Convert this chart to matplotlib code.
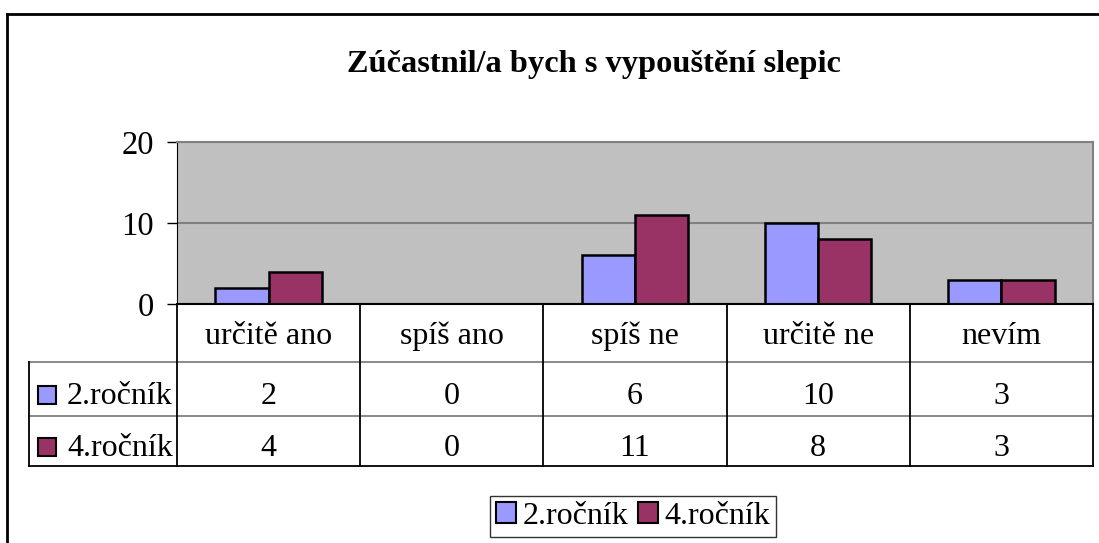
import matplotlib
matplotlib.use("Agg")
import matplotlib.pyplot as plt
from matplotlib.patches import Rectangle

# data
categories = ['určitě ano', 'spíš ano', 'spíš ne', 'určitě ne', 'nevím']
series = ['2.ročník', '4.ročník']
rocnik2 = [2, 0, 6, 10, 3]
rocnik4 = [4, 0, 11, 8, 3]
colors = ['#9999FF', '#993366']
yticks = [0, 10, 20]
title = 'Zúčastnil/a bych s vypouštění slepic'

plt.rcParams['font.family'] = ['Liberation Serif', 'DejaVu Serif']
FS = 23

W, H = 1099, 543
fig = plt.figure(figsize=(W / 100, H / 100), dpi=100)
fig.patch.set_facecolor('white')


def box(x0, y0, x1, y1):
  # pixel box (top-left origin) -> figure fraction rect
  return [x0 / W, 1 - y1 / H, (x1 - x0) / W, (y1 - y0) / H]


# overlay in pixel units for frame, title, row labels
pix = fig.add_axes([0, 0, 1, 1])
pix.set_xlim(0, W)
pix.set_ylim(H, 0)
pix.axis('off')

# outer chart frame (runs off the right / bottom edge)
pix.plot([7, 7], [14, H + 5], color='black', lw=2, solid_capstyle='projecting')
pix.plot([7, W + 5], [14, 14], color='black', lw=2, solid_capstyle='projecting')

pix.text(594, 72, title, ha='center', va='baseline', fontsize=23.3, fontweight='bold')

# plot area
ax = fig.add_axes(box(177, 142, 1093, 304))
ax.set_facecolor('#C0C0C0')
x = list(range(len(categories)))
w = 0.29
ax.bar([i - w / 2 for i in x], rocnik2, w, color=colors[0], edgecolor='black', lw=1.8, zorder=3)
ax.bar([i + w / 2 for i in x], rocnik4, w, color=colors[1], edgecolor='black', lw=1.8, zorder=3)
ax.set_xlim(-0.5, len(categories) - 0.5)
ax.set_ylim(0, 20)
ax.set_yticks(yticks)
ax.set_yticklabels([str(t) for t in yticks], fontsize=FS + 0.5)
ax.tick_params(axis='y', direction='out', length=7.5, width=1, pad=9)
ax.set_xticks([])
ax.grid(axis='y', color='#808080', lw=1.5, zorder=1)
for s in ['top', 'right']:
  ax.spines[s].set_color('#808080')
  ax.spines[s].set_linewidth(1.5)
ax.spines['left'].set_color('black')
ax.spines['bottom'].set_color('black')
ax.spines['bottom'].set_linewidth(1.5)
ax.spines['bottom'].set_zorder(4)

# data table under the plot
tab = fig.add_axes(box(177, 304, 1093, 466))
tab.set_xlim(-0.5, len(categories) - 0.5)
tab.set_ylim(162, 0)
tab.axis('off')
left = -0.5 - 148 / 183.2
row_lines = [58, 112]
for yy in row_lines:
  tab.plot([left, len(categories) - 0.5], [yy, yy], color='#808080', lw=1.3, clip_on=False)
tab.plot([left, len(categories) - 0.5], [162, 162], color='black', lw=1.3, clip_on=False)
tab.plot([left, left], [58, 162], color='black', lw=1.3, clip_on=False)
for i in range(len(categories) + 1):
  tab.plot([i - 0.5, i - 0.5], [0, 162], color='black', lw=1.3, clip_on=False)

for i, c in enumerate(categories):
  tab.text(i, 40, c, ha='center', va='baseline', fontsize=FS)
for row, (vals, baseline) in enumerate([(rocnik2, 100), (rocnik4, 152)]):
  for i, v in enumerate(vals):
    tab.text(i, baseline, str(v), ha='center', va='baseline', fontsize=FS)
  # row label with colour key
  cy = 304 + baseline - 9
  pix.add_patch(Rectangle((38, cy - 9), 18, 18, facecolor=colors[row], edgecolor='black', lw=1.5))
  pix.text(67, 304 + baseline, series[row], ha='left', va='baseline', fontsize=FS)

# legend box at the bottom
leg_handles = [Rectangle((0, 0), 1, 1, facecolor=c, edgecolor='black', lw=1.5) for c in colors]
leg = fig.legend(leg_handles, series, loc='center', bbox_to_anchor=((487 + 779) / 2 / W, 1 - (490 + 543) / 2 / H),
                 ncol=2, fontsize=FS, frameon=True, fancybox=False, handlelength=0.62, handleheight=0.62,
                 handletextpad=0.2, columnspacing=0.3, borderpad=0.2, borderaxespad=0)
leg.get_frame().set_edgecolor('black')
leg.get_frame().set_linewidth(1)

fig.savefig('out.png', dpi=100)
